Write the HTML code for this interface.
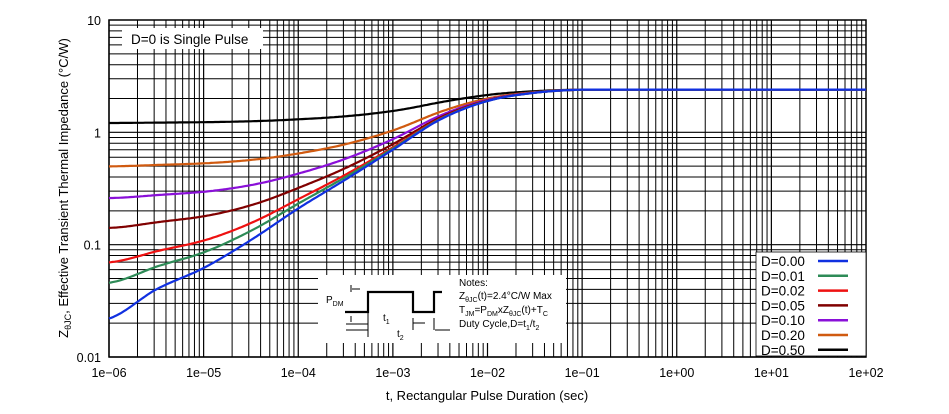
<!DOCTYPE html><html><head><meta charset="utf-8"><style>body{margin:0;background:#fff}svg{display:block;font-family:"Liberation Sans",sans-serif}</style></head><body>
<svg id="s" width="949" height="414" viewBox="0 0 949 414"></svg>
<script>
const s=document.getElementById('s');const L=109,R=866,T=20,B=357;
const X=v=>L+(Math.log10(v)+6)*(R-L)/8, Y=v=>T+(1-Math.log10(v))*(B-T)/3;
let h='';
for(let d=-6;d<2;d++)for(let k=1;k<10;k++){const x=X(k*10**d);h+=`<line x1="${x}" y1="${T}" x2="${x}" y2="${B}" stroke="#000" stroke-width="${k==1?1.2:1}"/>`;}
for(let d=-2;d<1;d++)for(let k=1;k<10;k++){const y=Y(k*10**d);h+=`<line x1="${L}" y1="${y}" x2="${R}" y2="${y}" stroke="#000" stroke-width="${k==1?1.2:1}"/>`;}
h+=`<rect x="${L}" y="${T}" width="${R-L}" height="${B-T}" fill="none" stroke="#000" stroke-width="1.5"/>`;
const P=[[-6,0.022],[-5.5,0.04],[-5,0.062],[-4.5,0.11],[-4,0.21],[-3.5,0.38],[-3,0.7],[-2.5,1.3],[-2,1.9],[-1.5,2.25],[-1,2.4],[-0.5,2.4],[2,2.4]].map(p=>[p[0],Math.log10(p[1])]);
function zs(lx){let i=0;while(i<P.length-2&&lx>P[i+1][0])i++;const p0=P[Math.max(i-1,0)],p1=P[i],p2=P[i+1],p3=P[Math.min(i+2,P.length-1)];const t=(lx-p1[0])/(p2[0]-p1[0]);const m1=(p2[1]-p0[1])/2,m2=(p3[1]-p1[1])/2;const t2=t*t,t3=t2*t;return 10**((2*t3-3*t2+1)*p1[1]+(t3-2*t2+t)*m1+(-2*t3+3*t2)*p2[1]+(t3-t2)*m2);}
const S=[[0,'#1030e0'],[0.01,'#2e8b57'],[0.02,'#ee1111'],[0.05,'#800000'],[0.1,'#8a10d8'],[0.2,'#d05a10'],[0.5,'#000']];
S.slice().reverse().forEach(([D,c])=>{let pts=[];for(let lx=-6;lx<=2.001;lx+=0.02){const z=Math.min(2.4,D*2.4+(1-D)*zs(lx));pts.push(X(10**lx).toFixed(1)+','+Y(z).toFixed(1));}h+=`<polyline points="${pts.join(' ')}" fill="none" stroke="${c}" stroke-width="2.2"/>`;});
h+=`<rect x="122" y="28" width="141" height="21" fill="#fff"/><text x="131" y="44" font-size="13.5">D=0 is Single Pulse</text>`;
h+=`<rect x="318" y="275" width="248" height="68" fill="#fff"/>`;
h+=`<g stroke="#000" stroke-width="2.2" fill="none"><polyline points="345,312 368,312 368,292 413,292 413,312 434,312 434,292 442,292"/></g>
<g stroke="#000" stroke-width="1"><line x1="352" y1="289" x2="360" y2="289"/><line x1="351" y1="285" x2="351" y2="292"/><line x1="351" y1="316" x2="351" y2="322"/><line x1="368" y1="300" x2="368" y2="337"/><line x1="413" y1="318" x2="413" y2="330"/><line x1="434" y1="318" x2="434" y2="330"/><line x1="346" y1="324" x2="368" y2="324"/><line x1="346" y1="330" x2="368" y2="330"/><line x1="413" y1="323" x2="425" y2="323"/><line x1="435" y1="330" x2="450" y2="330"/></g>
<g font-size="10"><text x="326" y="303">P<tspan font-size="7" dy="3">DM</tspan></text><text x="383" y="321">t<tspan font-size="7" dy="3">1</tspan></text><text x="397" y="337">t<tspan font-size="7" dy="3">2</tspan></text>
<text x="459" y="286">Notes:</text><text x="459" y="299">Z<tspan font-size="7" dy="3">θJC</tspan><tspan dy="-3">(t)=2.4°C/W Max</tspan></text><text x="459" y="313">T<tspan font-size="7" dy="3">JM</tspan><tspan dy="-3">=P</tspan><tspan font-size="7" dy="3">DM</tspan><tspan dy="-3">xZ</tspan><tspan font-size="7" dy="3">θJC</tspan><tspan dy="-3">(t)+T</tspan><tspan font-size="7" dy="3">C</tspan></text><text x="459" y="327">Duty Cycle,D=t<tspan font-size="7" dy="3">1</tspan><tspan dy="-3">/t</tspan><tspan font-size="7" dy="3">2</tspan></text></g>`;
h+=`<rect x="756" y="252" width="110" height="104" fill="#fff" stroke="#000" stroke-width="0.8"/>`;
S.forEach(([D,c],i)=>{const y=261+i*14.8;h+=`<text x="761" y="${y+5}" font-size="13.5">D=${D.toFixed(2)}</text><line x1="818" y1="${y}" x2="848" y2="${y}" stroke="${c}" stroke-width="2.5"/>`;});
['10','1','0.1','0.01'].forEach((t,i)=>{h+=`<text x="101" y="${T+i*(B-T)/3+5}" font-size="12.5" text-anchor="end">${t}</text>`;});
for(let d=-6;d<=2;d++){const e=d<0?'−'+String(-d).padStart(2,'0'):'+'+String(d).padStart(2,'0');h+=`<text x="${X(10**d)}" y="377" font-size="12.5" text-anchor="middle">1e${e}</text>`;}
h+=`<text x="487" y="400" font-size="13" text-anchor="middle">t, Rectangular Pulse Duration (sec)</text>`;
h+=`<text transform="translate(68,188) rotate(-90)" font-size="13" text-anchor="middle">Z<tspan font-size="9" dy="3">θJC</tspan><tspan dy="-3">, Effective Transient Thermal Impedance (°C/W)</tspan></text>`;
s.innerHTML=h;
</script></body></html>
